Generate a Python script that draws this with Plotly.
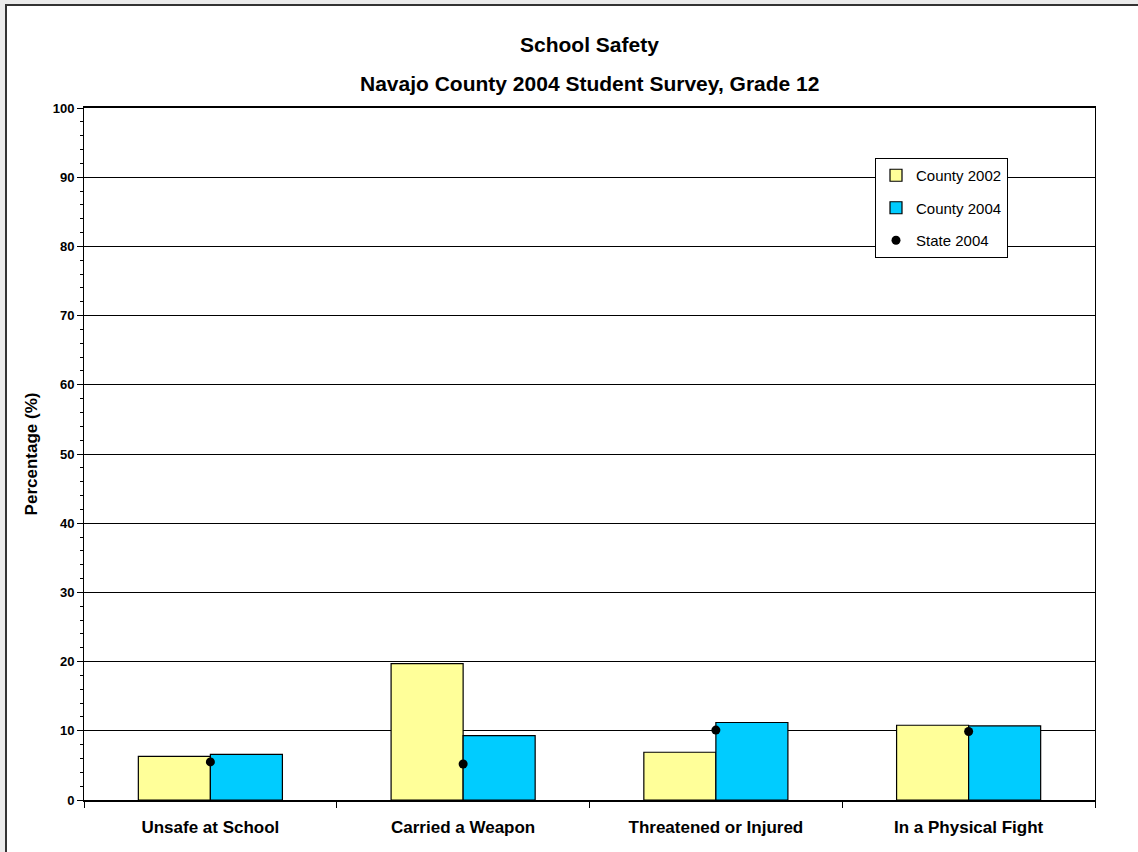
import plotly.graph_objects as go

categories = ["Unsafe at School", "Carried a Weapon", "Threatened or Injured", "In a Physical Fight"]
county_2002 = [6.3, 19.7, 6.9, 10.8]
county_2004 = [6.6, 9.3, 11.2, 10.7]
state_2004 = [5.5, 5.2, 10.1, 9.9]

W, H = 1138, 852
L, R, T, B = 84, 43, 108, 52
pw, ph = W - L - R, H - T - B

def px_x(v):
    return (v - L) / pw

def px_y(v):
    return (H - B - v) / ph

font = "Liberation Sans, Arial, sans-serif"

fig = go.Figure()
fig.add_trace(go.Bar(
    x=categories, y=county_2002, name="County 2002", legendgroup="a",
    marker=dict(color="#FFFF99", line=dict(color="black", width=1.2)),
))
fig.add_trace(go.Bar(
    x=categories, y=county_2004, name="County 2004", legendgroup="b",
    marker=dict(color="#00CCFF", line=dict(color="black", width=1.2)),
))
fig.add_trace(go.Scatter(
    x=categories, y=state_2004, name="State 2004", mode="markers", legendgroup="c",
    marker=dict(color="black", size=9),
))

# outer frame (gray strip on left/top, frame line)
fig.add_shape(type="rect", xref="paper", yref="paper",
              x0=px_x(6), x1=px_x(W + 20), y0=px_y(H + 20), y1=px_y(5),
              fillcolor="white", line=dict(color="#333333", width=2), layer="below")

fig.add_annotation(text="<b>School Safety</b>", xref="paper", yref="paper",
                   x=0.5, y=px_y(44), yanchor="middle", showarrow=False,
                   font=dict(size=21, family=font, color="black"))
fig.add_annotation(text="<b>Navajo County 2004 Student Survey, Grade 12</b>", xref="paper", yref="paper",
                   x=0.5, y=px_y(84), yanchor="middle", showarrow=False,
                   font=dict(size=21, family=font, color="black"))

fig.update_layout(
    width=W, height=H,
    margin=dict(l=L, r=R, t=T, b=B),
    paper_bgcolor="#EBEBEB",
    plot_bgcolor="white",
    font=dict(family=font, color="black"),
    barmode="group", bargap=0.43, bargroupgap=0,
    showlegend=True,
    legend=dict(
        x=px_x(875), y=px_y(158), xanchor="left", yanchor="top",
        bgcolor="white", bordercolor="black", borderwidth=1,
        font=dict(size=15, family=font), tracegroupgap=10, itemwidth=30,
    ),
    xaxis=dict(
        showline=True, linecolor="black", linewidth=2, mirror=True,
        ticks="outside", tickson="boundaries", ticklen=6, tickcolor="black",
        tickfont=dict(size=17, family=font), showgrid=False,
        ticklabelstandoff=11,
    ),
    yaxis=dict(
        range=[0, 100], dtick=10, showline=True, linecolor="black", linewidth=1, mirror=True,
        ticks="outside", ticklen=6, tickcolor="black",
        tickfont=dict(size=13, family=font),
        gridcolor="black", gridwidth=1,
        minor=dict(dtick=2, ticks="outside", ticklen=3, tickcolor="black", showgrid=False),
        title=dict(text="<b>Percentage (%)</b>", font=dict(size=17, family=font), standoff=10),
        zeroline=False,
    ),
)
fig.for_each_xaxis(lambda a: a.update(ticktext=[f"<b>{c}</b>" for c in categories], tickvals=categories))
fig.for_each_yaxis(lambda a: a.update(tickvals=list(range(0, 101, 10)), ticktext=[f"<b>{v}</b>" for v in range(0, 101, 10)]))

fig.write_html("out.html", config={"displayModeBar": False},
               post_script="document.body.style.margin='0';document.body.style.overflow='hidden';")
